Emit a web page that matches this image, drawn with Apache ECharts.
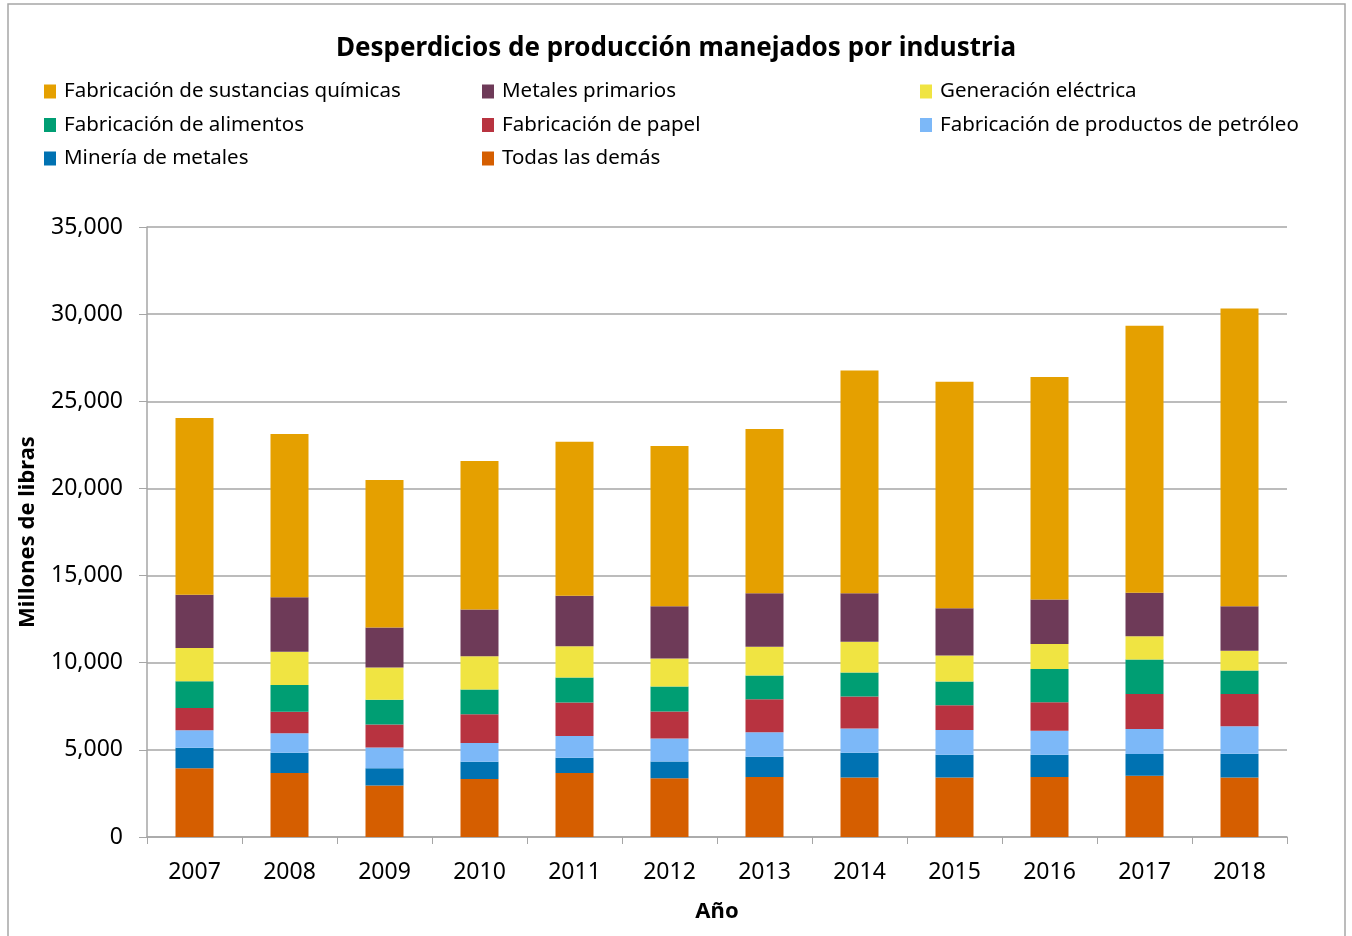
<!DOCTYPE html>
<html>
<head>
<meta charset="UTF-8">
<title>Desperdicios de producción manejados por industria</title>
<script src="https://cdn.jsdelivr.net/npm/echarts@6/dist/echarts.min.js"></script>
<style>
    html, body { margin: 0; padding: 0; background: #fff; }
    #main { width: 1352px; height: 936px; }
</style>
</head>
<body>
<div id="main"></div>
<script>
    // años
    var years = ['2007','2008','2009','2010','2011','2012','2013','2014','2015','2016','2017','2018'];
    var yTicks = [0, 5000, 10000, 15000, 20000, 25000, 30000, 35000];

    // series (millones de libras), de abajo hacia arriba
    var todasLasDemas = [3940, 3670, 2960, 3330, 3670, 3370, 3440, 3410, 3420, 3440, 3520, 3420];
    var mineriaMetales = [1180, 1170, 980, 990, 880, 960, 1170, 1430, 1300, 1280, 1240, 1360];
    var petroleo = [1000, 1110, 1190, 1070, 1240, 1320, 1400, 1380, 1420, 1380, 1440, 1570];
    var papel = [1280, 1240, 1320, 1650, 1930, 1550, 1890, 1840, 1420, 1630, 2010, 1860];
    var alimentos = [1530, 1530, 1430, 1420, 1430, 1430, 1360, 1380, 1360, 1910, 1970, 1340];
    var generacion = [1910, 1910, 1840, 1910, 1800, 1610, 1660, 1760, 1490, 1430, 1340, 1130];
    var metalesPrimarios = [3060, 3120, 2300, 2680, 2890, 3000, 3060, 2790, 2720, 2560, 2500, 2560];
    var quimicas = [10140, 9370, 8470, 8530, 8840, 9200, 9430, 12780, 12990, 12760, 15320, 17080];

    var stack = [
        ['Todas las demás', todasLasDemas, '#D55E00'],
        ['Minería de metales', mineriaMetales, '#0072B2'],
        ['Fabricación de productos de petróleo', petroleo, '#7CB8F8'],
        ['Fabricación de papel', papel, '#B83340'],
        ['Fabricación de alimentos', alimentos, '#009E73'],
        ['Generación eléctrica', generacion, '#F0E442'],
        ['Metales primarios', metalesPrimarios, '#6E3A58'],
        ['Fabricación de sustancias químicas', quimicas, '#E5A000']
    ];

    var series = [];
    for (var i = 0; i < stack.length; i++) {
        series.push({
            name: stack[i][0],
            type: 'bar',
            stack: 'total',
            barWidth: 38,
            data: stack[i][1],
            itemStyle: { color: stack[i][2] }
        });
    }

    var fuente = '"Noto Sans", "Open Sans", sans-serif';
    function leyenda(left, names) {
        return {
            orient: 'vertical',
            left: left,
            top: 76,
            itemWidth: 12,
            itemHeight: 14,
            itemGap: 12.5,
            icon: 'rect',
            data: names,
            textStyle: { fontFamily: fuente, fontSize: 20.5, color: '#000', padding: [0, 0, 0, 3] },
            selectedMode: false
        };
    }

    var chart = echarts.init(document.getElementById('main'));
    chart.setOption({
        animation: false,
        textStyle: { fontFamily: fuente },
        title: {
            text: 'Desperdicios de producción manejados por industria',
            left: 'center',
            top: 31,
            textStyle: { fontFamily: fuente, fontSize: 26, fontWeight: 'bold', color: '#000' }
        },
        legend: [
            leyenda(39, ['Fabricación de sustancias químicas', 'Fabricación de alimentos', 'Minería de metales']),
            leyenda(477, ['Metales primarios', 'Fabricación de papel', 'Todas las demás']),
            leyenda(915, ['Generación eléctrica', 'Fabricación de productos de petróleo'])
        ],
        graphic: [{
            type: 'rect',
            shape: { x: 8, y: 4, width: 1337, height: 940 },
            style: { fill: 'none', stroke: '#A6A6A6', lineWidth: 1.5 },
            silent: true
        }],
        grid: { left: 147, right: 65, top: 227, bottom: 99 },
        xAxis: {
            type: 'category',
            data: years,
            name: 'Año',
            nameLocation: 'middle',
            nameGap: 64,
            nameTextStyle: { fontFamily: fuente, fontSize: 22, fontWeight: 'bold', color: '#000' },
            axisLine: { lineStyle: { color: '#A6A6A6', width: 1.5 } },
            axisTick: { show: true, length: 7, lineStyle: { color: '#A6A6A6' } },
            axisLabel: { fontFamily: fuente, fontSize: 23, color: '#000', margin: 24 }
        },
        yAxis: {
            type: 'value',
            min: 0,
            max: 35000,
            interval: 5000,
            name: 'Millones de libras',
            nameLocation: 'middle',
            nameGap: 108,
            nameTextStyle: { fontFamily: fuente, fontSize: 22, fontWeight: 'bold', color: '#000' },
            axisLine: { show: true, lineStyle: { color: '#A6A6A6', width: 1.5 } },
            axisTick: { show: true, length: 8, lineStyle: { color: '#A6A6A6' } },
            splitLine: { lineStyle: { color: '#A6A6A6', width: 1.5 } },
            axisLabel: {
                fontFamily: fuente, fontSize: 23, color: '#000', margin: 24,
                formatter: function (v) {
                    return yTicks.indexOf(v) >= 0 ? v.toLocaleString('en-US') : '';
                }
            }
        },
        series: series
    });
</script>
</body>
</html>
